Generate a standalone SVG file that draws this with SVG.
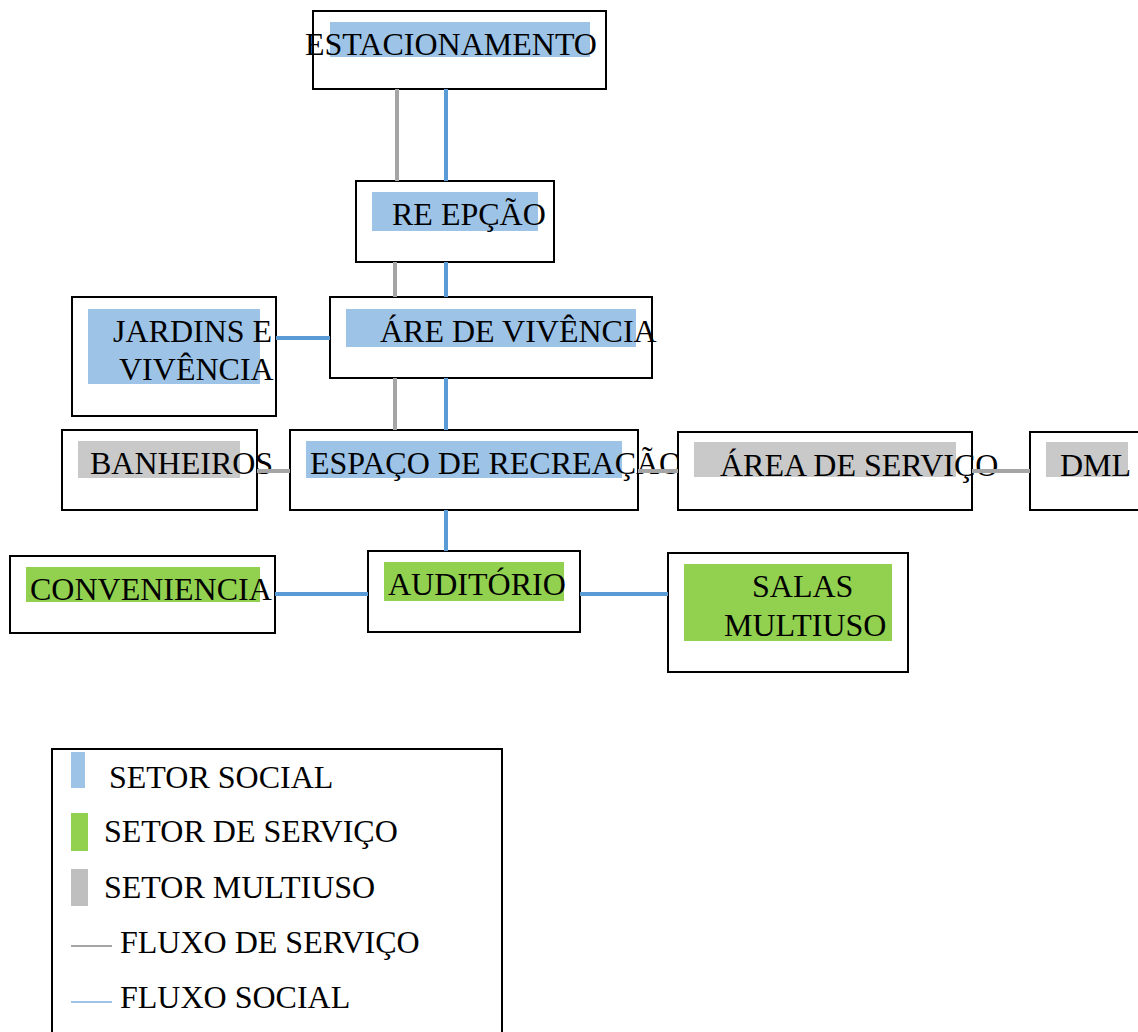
<svg xmlns="http://www.w3.org/2000/svg" width="1138" height="1032" viewBox="0 0 1138 1032">
<style>
.box{fill:#fff;stroke:#000;stroke-width:2}
.hb{fill:#9dc3e6}
.hg{fill:#92d050}
.hy{fill:#c9c9c9}
text{font-family:"Liberation Serif","Times New Roman",serif;font-size:32px;fill:#000}
.cb{stroke:#5b9bd5;stroke-width:4;fill:none}
.cg{stroke:#a5a5a5;stroke-width:4;fill:none}
</style>
<rect width="1138" height="1032" fill="#fff"/>
<g id="estacionamento">
<rect class="box" x="313" y="11" width="293" height="78"/>
<rect class="hb" x="330" y="22" width="260" height="35"/>
<text x="305" y="55">ESTACIONAMENTO</text>
</g>
<g id="recepcao">
<rect class="box" x="356" y="181" width="198" height="81"/>
<rect class="hb" x="372" y="192" width="166" height="39"/>
<text x="392" y="225">RE EPÇÃO</text>
</g>
<g id="jardins">
<rect class="box" x="72" y="297" width="204" height="119"/>
<rect class="hb" x="88" y="309" width="172" height="75"/>
<text x="113" y="342">JARDINS E</text>
<text x="119" y="380">VIVÊNCIA</text>
</g>
<g id="area-vivencia">
<rect class="box" x="330" y="297" width="322" height="81"/>
<rect class="hb" x="346" y="309" width="290" height="38"/>
<text x="380" y="342">ÁRE DE VIVÊNCIA</text>
</g>
<g id="banheiros">
<rect class="box" x="62" y="430" width="195" height="80"/>
<rect class="hy" x="78" y="441" width="162" height="37"/>
<text x="90" y="474">BANHEIROS</text>
</g>
<g id="espaco-recreacao">
<rect class="box" x="290" y="430" width="348" height="80"/>
<rect class="hb" x="306" y="441" width="316" height="37"/>
<text x="310" y="474">ESPAÇO DE RECREAÇÃO</text>
</g>
<g id="area-servico">
<rect class="box" x="678" y="432" width="294" height="78"/>
<rect class="hy" x="694" y="442" width="262" height="35"/>
<text x="720" y="476">ÁREA DE SERVIÇO</text>
</g>
<g id="dml">
<rect class="box" x="1030" y="432" width="120" height="78"/>
<rect class="hy" x="1046" y="442" width="82" height="35"/>
<text x="1060" y="476">DML</text>
</g>
<g id="conveniencia">
<rect class="box" x="10" y="556" width="265" height="77"/>
<rect class="hg" x="26" y="567" width="234" height="35"/>
<text x="30" y="600">CONVENIENCIA</text>
</g>
<g id="auditorio">
<rect class="box" x="368" y="551" width="212" height="81"/>
<rect class="hg" x="384" y="562" width="180" height="39"/>
<text x="388" y="595">AUDITÓRIO</text>
</g>
<g id="salas-multiuso">
<rect class="box" x="668" y="553" width="240" height="119"/>
<rect class="hg" x="684" y="564" width="208" height="77"/>
<text x="752" y="597">SALAS</text>
<text x="724" y="636">MULTIUSO</text>
</g>
<g id="connectors">
<line class="cg" x1="397" y1="89" x2="397" y2="181"/>
<line class="cb" x1="446" y1="89" x2="446" y2="181"/>
<line class="cg" x1="395" y1="262" x2="395" y2="297"/>
<line class="cb" x1="446" y1="262" x2="446" y2="297"/>
<line class="cg" x1="395" y1="378" x2="395" y2="430"/>
<line class="cb" x1="446" y1="378" x2="446" y2="430"/>
<line class="cb" x1="276" y1="338" x2="330" y2="338"/>
<line class="cg" x1="257" y1="471" x2="290" y2="471"/>
<line class="cg" x1="638" y1="471" x2="678" y2="471"/>
<line class="cg" x1="972" y1="471" x2="1030" y2="471"/>
<line class="cb" x1="446" y1="510" x2="446" y2="551"/>
<line class="cb" x1="275" y1="594" x2="368" y2="594"/>
<line class="cb" x1="580" y1="594" x2="668" y2="594"/>
</g>
<g id="legend">
<rect class="box" x="52" y="749" width="450" height="300"/>
<rect fill="#9dc3e6" x="71" y="752" width="14" height="36"/>
<text x="109" y="788">SETOR SOCIAL</text>
<rect fill="#92d050" x="71" y="813" width="17" height="38"/>
<text x="104" y="842">SETOR DE SERVIÇO</text>
<rect fill="#bfbfbf" x="71" y="869" width="17" height="37"/>
<text x="104" y="898">SETOR MULTIUSO</text>
<line x1="71" y1="946" x2="112" y2="946" stroke="#a5a5a5" stroke-width="2"/>
<text x="120" y="953">FLUXO DE SERVIÇO</text>
<line x1="71" y1="1002" x2="112" y2="1002" stroke="#9dc3e6" stroke-width="2"/>
<text x="120" y="1008">FLUXO SOCIAL</text>
</g>
</svg>
